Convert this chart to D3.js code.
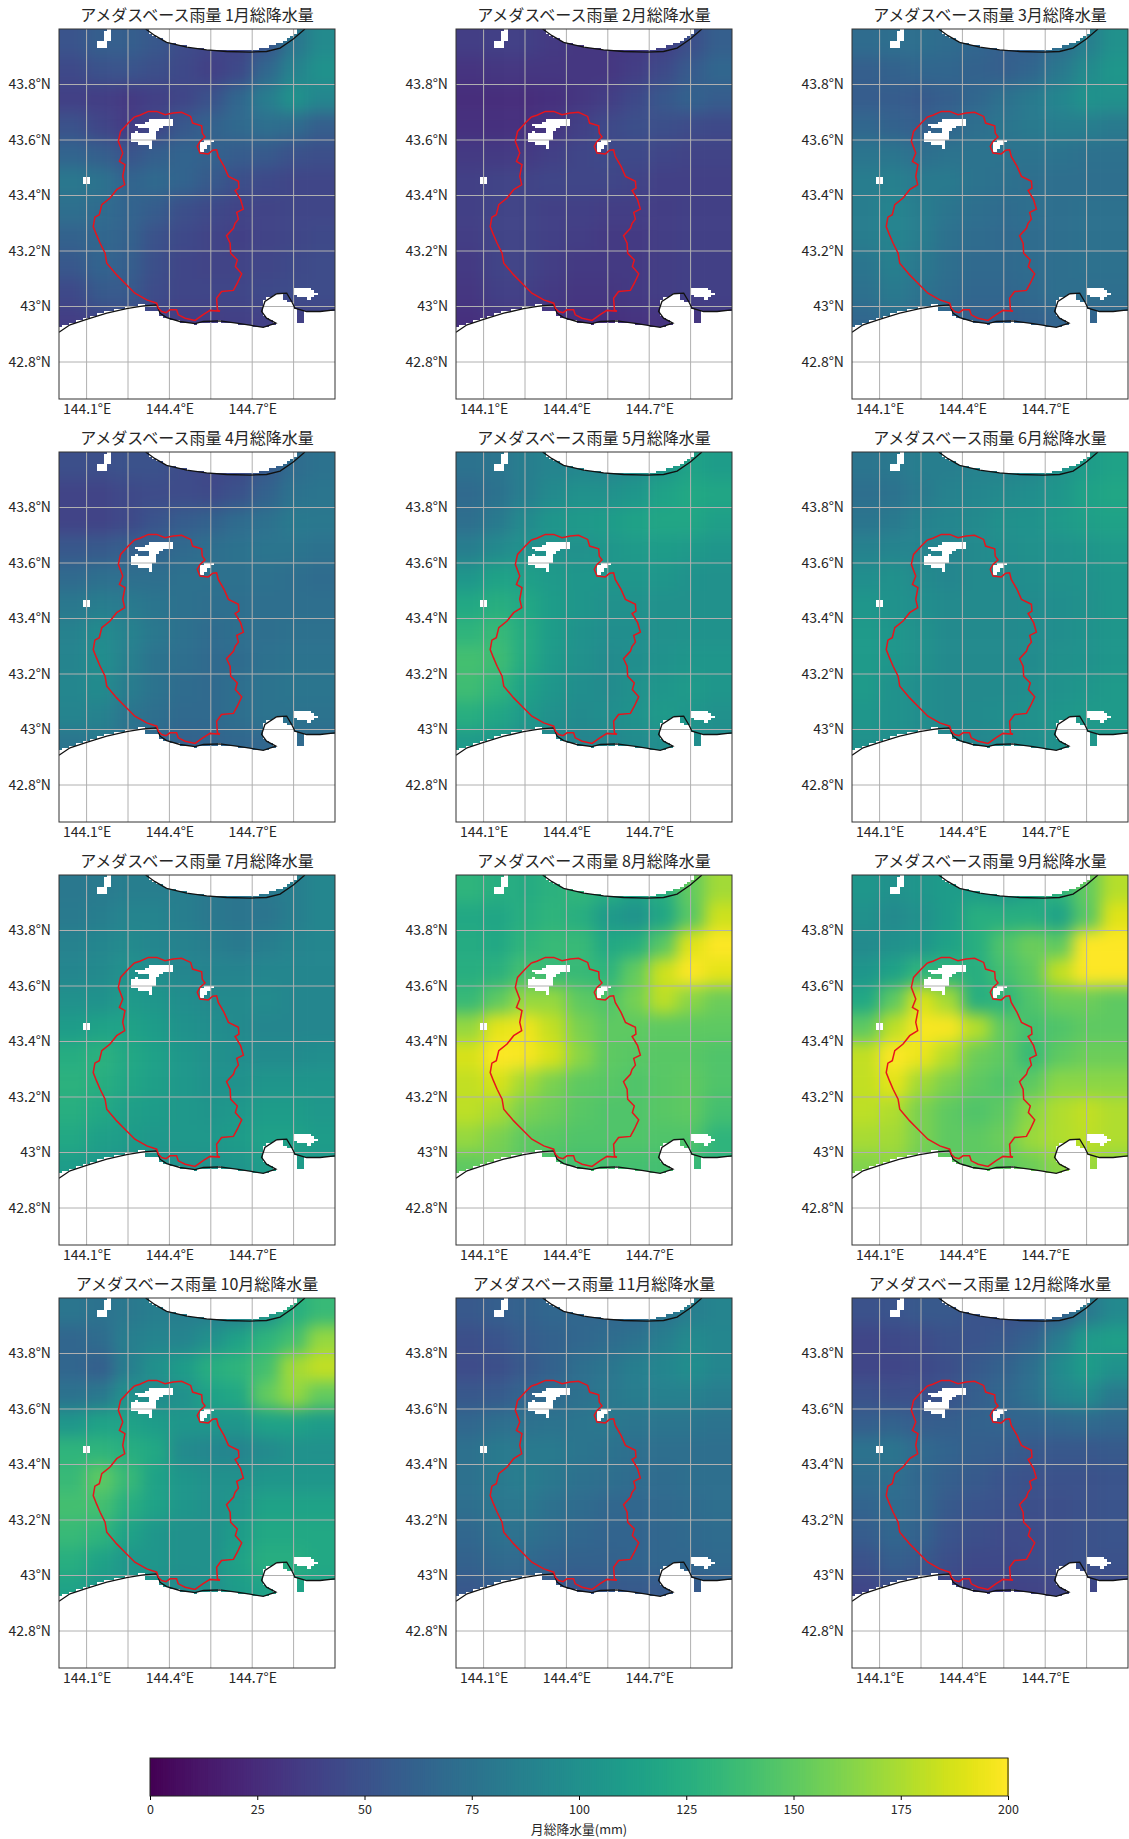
<!DOCTYPE html>
<html>
<head>
<meta charset="utf-8">
<script src="https://cdn.jsdelivr.net/npm/d3@7"></script>
<style>
  body { margin: 0; background: #fff; }
  svg text { font-family: "Noto Sans CJK JP", sans-serif; fill: #262626; }
  .axis path { display: none; }
</style>
</head>
<body>
<script>
var months = ["1月","2月","3月","4月","5月","6月","7月","8月","9月","10月","11月","12月"]

// centre of each coarse reading, columns west to east and rows north to south
var colLons = [144.0,144.1,144.2,144.3,144.4,144.5,144.6,144.7,144.8,144.9]
var rowLats = [44.0,43.9,43.8,43.7,43.6,43.5,43.4,43.3,43.2,43.1,43.0]

var lonGrid = [144.1,144.25,144.4,144.55,144.7,144.85]
var lonLabels = [144.1,144.4,144.7]
var latTicks = [43.8,43.6,43.4,43.2,43,42.8]
var barTicks = [0,25,50,75,100,125,150,175,200]

// monthly rain in mm
var jan = [[52,60,60,54,46,42,40,52,78,95],[44,50,52,48,44,38,44,66,88,102],[38,36,34,38,42,50,66,84,102,92],[50,42,35,42,54,62,68,72,70,60],[64,60,52,60,64,62,58,56,50,48],[80,76,64,68,64,56,48,44,42,42],[72,70,64,58,48,44,40,40,42,42],[62,66,62,50,44,40,38,40,42,44],[54,64,60,48,42,40,40,42,44,46],[44,56,56,46,42,42,42,44,46,46],[36,42,44,40,36,36,38,38,38,40]]
var feb = [[36,38,38,34,32,32,34,38,48,60],[30,32,32,32,32,32,36,45,57,66],[26,26,26,28,32,36,44,54,62,58],[28,28,28,32,38,44,48,48,46,44],[34,34,34,38,42,44,44,42,40,40],[38,40,40,42,42,42,40,38,38,38],[38,40,40,38,38,36,36,36,38,38],[36,40,40,38,36,34,34,36,38,38],[34,40,40,36,34,34,34,36,38,38],[32,38,38,34,32,32,34,36,38,38],[28,32,32,30,28,28,30,30,32,34]]
var mar = [[70,72,72,70,65,60,60,70,85,100],[60,62,65,65,62,60,65,80,95,105],[58,58,56,60,66,74,82,92,102,100],[66,62,60,66,72,78,82,85,85,82],[78,78,72,76,76,76,76,76,74,74],[84,86,82,82,76,74,72,72,72,72],[84,90,84,78,72,70,72,72,74,74],[84,90,84,74,70,68,70,72,74,74],[78,86,80,72,68,68,70,72,74,74],[74,82,76,70,66,66,68,72,72,72],[66,72,68,64,60,60,62,64,64,66]]
var apr = [[48,48,50,50,46,42,44,55,70,75],[40,40,44,46,46,45,50,62,75,78],[40,40,44,52,58,62,70,74,82,80],[54,56,60,64,68,72,75,78,78,75],[68,72,72,72,74,74,74,74,72,70],[80,84,82,78,74,72,72,72,72,72],[88,96,88,80,74,70,72,72,74,74],[90,98,86,76,72,68,70,74,76,76],[92,96,84,76,70,68,72,76,78,78],[90,88,78,72,68,68,72,76,76,76],[78,80,72,66,62,64,66,66,68,68]]
var may = [[75,78,85,90,92,90,95,105,115,110],[68,75,85,95,100,100,105,115,120,118],[72,82,95,105,108,110,115,118,118,112],[85,95,100,100,100,105,108,110,108,105],[105,115,112,108,105,105,105,105,102,100],[120,125,120,110,105,100,100,100,100,100],[130,135,122,110,102,98,98,100,102,102],[140,138,122,108,100,96,98,102,105,105],[138,130,115,105,98,96,100,105,108,105],[125,118,108,100,96,98,102,108,105,100],[108,105,96,92,90,92,96,98,98,95]]
var jun = [[78,80,85,85,88,88,92,100,110,115],[72,75,82,88,92,95,98,105,115,118],[78,82,88,92,95,100,102,108,112,115],[88,90,90,90,95,98,100,102,105,108],[98,100,95,92,95,96,98,100,102,105],[105,102,98,95,95,95,96,98,100,105],[108,105,100,95,95,95,96,98,102,105],[108,105,100,95,95,95,96,100,102,105],[108,102,98,95,95,96,98,102,105,108],[105,102,98,95,96,98,100,105,108,108],[100,98,95,92,92,95,98,102,105,105]]
var jul = [[80,82,85,85,85,80,78,80,85,92],[82,85,90,90,85,80,78,78,85,92],[88,92,95,92,88,85,82,85,90,92],[92,95,100,98,92,90,90,92,92,92],[100,102,108,105,98,95,95,95,92,92],[110,115,115,110,102,98,95,92,92,92],[124,128,120,114,106,100,98,96,96,98],[128,125,118,112,107,102,102,104,104,104],[125,120,112,110,107,104,107,110,110,107],[120,112,110,107,107,107,110,114,114,110],[110,107,102,100,100,102,104,110,110,107]]
var aug = [[130,125,122,128,132,125,115,125,152,172],[120,118,125,130,125,108,103,118,148,185],[122,120,130,135,135,120,125,148,190,200],[125,128,140,135,135,130,152,185,200,192],[135,150,168,168,150,145,158,180,165,155],[168,192,195,182,160,150,150,150,150,150],[188,200,198,188,165,150,148,148,148,145],[182,188,172,160,150,148,145,148,150,145],[180,174,160,155,148,145,145,148,150,140],[168,160,150,148,145,145,145,145,145,130],[150,155,148,140,140,140,140,140,135,130]]
var sep = [[105,100,105,110,110,105,115,130,152,178],[100,95,100,110,125,125,125,115,148,190],[95,100,105,115,125,145,155,150,200,200],[105,115,130,130,125,140,150,182,200,200],[120,150,188,172,125,130,145,155,155,150],[150,180,198,198,178,150,140,145,150,150],[182,200,194,178,155,150,135,150,155,155],[182,192,172,160,150,145,150,165,165,165],[180,176,160,150,145,150,165,176,182,176],[174,172,160,150,150,155,170,176,180,176],[162,166,155,150,150,150,155,165,170,165]]
var oct = [[78,75,80,85,85,85,85,100,125,135],[65,70,85,90,90,100,115,130,140,168],[65,60,85,100,110,125,130,140,172,182],[75,80,100,95,100,115,120,152,168,152],[105,115,115,110,105,105,105,115,115,110],[130,130,125,120,95,92,90,95,100,100],[135,150,135,115,105,100,100,105,105,105],[140,140,125,115,105,100,105,115,115,115],[135,130,115,105,100,100,110,120,120,120],[125,115,105,105,100,100,115,125,125,120],[115,105,105,100,95,100,110,115,115,115]]
var nov = [[55,60,62,66,66,66,66,75,85,90],[48,52,58,62,66,70,75,85,95,92],[46,48,55,62,72,78,85,92,98,92],[54,57,64,68,74,80,84,87,87,84],[66,72,74,76,78,80,78,78,78,76],[74,82,82,82,78,75,72,72,72,72],[74,82,84,80,74,72,70,70,72,72],[72,79,80,74,70,66,66,68,70,72],[66,74,74,70,66,64,64,66,68,70],[62,68,68,64,62,62,64,66,66,68],[54,58,58,54,52,54,56,56,56,59]]
var dec = [[50,52,55,55,52,50,52,60,80,94],[42,44,46,50,52,55,62,84,108,112],[42,42,44,48,56,62,72,96,110,102],[50,48,48,52,60,66,74,92,96,82],[60,62,58,60,62,64,64,66,68,66],[76,78,68,64,60,58,55,54,54,56],[70,72,66,60,56,52,50,50,50,52],[64,70,66,56,52,50,48,48,50,52],[58,66,62,52,48,46,46,48,50,52],[50,60,56,48,44,44,46,48,50,50],[42,48,46,40,38,38,40,42,42,44]]
var rain = [jan,feb,mar,apr,may,jun,jul,aug,sep,oct,nov,dec]

// catchment outline, lon/lat
var basin = [[144.273,43.683],[144.293,43.689],[144.324,43.703],[144.354,43.703],[144.384,43.691],[144.414,43.697],[144.444,43.700],[144.477,43.685],[144.484,43.661],[144.517,43.651],[144.519,43.625],[144.529,43.611],[144.511,43.595],[144.501,43.577],[144.511,43.553],[144.541,43.550],[144.557,43.563],[144.571,43.565],[144.577,43.541],[144.598,43.505],[144.614,43.469],[144.650,43.451],[144.652,43.427],[144.638,43.418],[144.658,43.385],[144.668,43.351],[144.644,43.339],[144.650,43.315],[144.638,43.300],[144.632,43.282],[144.607,43.255],[144.620,43.228],[144.622,43.192],[144.646,43.168],[144.639,43.144],[144.662,43.118],[144.646,43.084],[144.632,43.058],[144.589,43.054],[144.571,43.030],[144.574,42.988],[144.583,42.983],[144.547,42.986],[144.521,42.970],[144.493,42.950],[144.457,42.958],[144.432,42.970],[144.426,42.988],[144.402,42.988],[144.388,42.978],[144.372,42.982],[144.360,42.994],[144.354,43.012],[144.318,43.024],[144.275,43.048],[144.239,43.084],[144.209,43.114],[144.173,43.156],[144.167,43.192],[144.149,43.228],[144.136,43.258],[144.124,43.288],[144.130,43.322],[144.146,43.331],[144.155,43.367],[144.185,43.391],[144.209,43.421],[144.238,43.439],[144.231,43.469],[144.239,43.511],[144.219,43.523],[144.231,43.553],[144.215,43.595],[144.223,43.631],[144.251,43.661],[144.273,43.683]]

var coastNorth = [[144.314,44.0],[144.348,43.976],[144.390,43.952],[144.463,43.935],[144.535,43.925],[144.607,43.919],[144.692,43.917],[144.752,43.919],[144.801,43.931],[144.849,43.964],[144.891,44.0]]
var coastSouth = [[144.0,42.907],[144.040,42.934],[144.100,42.954],[144.173,42.976],[144.245,42.992],[144.306,43.002],[144.354,43.006],[144.366,42.976],[144.390,42.960],[144.438,42.946],[144.493,42.938],[144.523,42.946],[144.583,42.948],[144.656,42.938],[144.740,42.925],[144.786,42.940],[144.752,42.958],[144.734,42.982],[144.746,43.018],[144.789,43.046],[144.825,43.048],[144.843,43.018],[144.855,42.994],[144.897,42.982],[144.946,42.982],[145.0,42.988]]

// cells with no data; these follow the grid rather than the coast
var seaNorth = [[144.305,44.01],[144.340,43.978],[144.385,43.955],[144.463,43.937],[144.535,43.927],[144.607,43.921],[144.692,43.925],[144.752,43.932],[144.801,43.950],[144.849,43.978],[144.875,44.01]]
var seaSouth = [[143.98,42.65],[143.98,42.912],[144.040,42.940],[144.100,42.960],[144.173,42.982],[144.245,42.997],[144.306,43.006],[144.313,42.985],[144.358,42.983],[144.366,42.970],[144.390,42.958],[144.438,42.944],[144.493,42.936],[144.523,42.944],[144.583,42.946],[144.656,42.936],[144.740,42.923],[144.786,42.938],[144.752,42.958],[144.734,42.985],[144.738,43.018],[144.789,43.050],[144.812,43.048],[144.818,43.025],[144.845,43.015],[144.858,42.985],[144.858,42.945],[144.884,42.945],[144.884,42.985],[144.946,42.980],[145.02,42.985],[145.02,42.65]]
var lakes = [
  [[144.139,43.959],[144.161,43.959],[144.167,43.986],[144.185,43.995],[144.188,43.986],[144.175,43.956],[144.173,43.938],[144.143,43.940]],
  [[144.088,43.463],[144.110,43.463],[144.110,43.442],[144.088,43.442]],
  [[144.285,43.659],[144.315,43.659],[144.331,43.669],[144.412,43.669],[144.412,43.651],[144.372,43.651],[144.364,43.639],[144.351,43.631],[144.345,43.613],[144.338,43.599],[144.336,43.571],[144.324,43.571],[144.324,43.591],[144.300,43.583],[144.281,43.595],[144.261,43.601],[144.263,43.619],[144.279,43.621],[144.284,43.635],[144.291,43.619],[144.324,43.623],[144.327,43.649],[144.285,43.649]],
  [[144.511,43.565],[144.513,43.583],[144.525,43.589],[144.533,43.599],[144.562,43.599],[144.547,43.591],[144.533,43.575],[144.523,43.559]],
  [[144.861,43.065],[144.905,43.065],[144.934,43.045],[144.915,43.030],[144.880,43.035],[144.861,43.040]]
]

var panelW = 276, panelH = 370
var left = [59, 456, 852], top_ = [29, 452, 875, 1298]
var cellLon = 0.0125, cellLat = 1 / 120

var svg = d3.select("body").append("svg").attr("width", 1129).attr("height", 1839)

var color = d3.scaleSequential(d3.interpolateViridis).domain([0, 200])
var x = d3.scaleLinear().domain([144, 145]).range([0, panelW])
var y = d3.scaleLinear().domain([44, 42.6667]).range([0, panelH])

var defs = svg.append("defs")
defs.append("clipPath").attr("id", "panelClip").append("rect").attr("width", panelW).attr("height", panelH)
defs.append("filter").attr("id", "soft").attr("x", "-10%").attr("y", "-10%")
    .attr("width", "120%").attr("height", "120%")
    .attr("color-interpolation-filters", "sRGB")
  .append("feGaussianBlur").attr("stdDeviation", 8)

// the white no-data cells are the same for all months, so work them out once
var sea = [seaNorth.concat([[144.875,44.02],[144.305,44.02]]), seaSouth]
var maskPath = ""
function inShape(shape, lon, lat) { return d3.polygonContains(shape, [lon, lat]) }
d3.range(80).forEach(function(i) {
  d3.range(160).forEach(function(j) {
    var lon = 144 + (i + .5) * cellLon, lat = 44 - (j + .5) * cellLat
    var dx = cellLon * .4, dy = cellLat * .4
    // lakes are thin, so a cell counts as soon as most of it might touch one
    var hit = sea.some(function(p) { return inShape(p, lon, lat) })
      || lakes.some(function(p) {
        return inShape(p, lon, lat) || inShape(p, lon - dx, lat) || inShape(p, lon + dx, lat)
          || inShape(p, lon, lat - dy) || inShape(p, lon, lat + dy)
      })
    if (hit) {
      maskPath += "M" + x(144 + i * cellLon) + " " + y(44 - j * cellLat)
        + "H" + x(144 + (i + 1) * cellLon) + "V" + y(44 - (j + 1) * cellLat)
        + "H" + x(144 + i * cellLon) + "Z"
    }
  })
})

var outline = d3.line().x(function(d) { return x(d[0]) }).y(function(d) { return y(d[1]) })
var pad = 45 // outer cells run past the frame so the blur does not fade there

months.forEach(function(m, k) {
  var g = svg.append("g").attr("transform", "translate(" + left[k % 3] + "," + top_[Math.floor(k / 3)] + ")")
  var plot = g.append("g").attr("clip-path", "url(#panelClip)")

  var cells = []
  rain[k].forEach(function(row, r) {
    row.forEach(function(v, c) { cells.push({ r: r, c: c, v: v }) })
  })
  plot.append("g").attr("filter", "url(#soft)").selectAll("rect").data(cells).enter().append("rect")
      .attr("x", function(d) { return x(colLons[d.c]) - (d.c == 0 ? pad : 0) })
      .attr("y", function(d) { return y(rowLats[d.r]) - (d.r == 0 ? pad : 0) })
      .attr("width", function(d) { return x(colLons[d.c] + .1) - x(colLons[d.c]) + (d.c == 0 || d.c == 9 ? pad : 0) + .5 })
      .attr("height", function(d) { return y(rowLats[d.r] - .1) - y(rowLats[d.r]) + (d.r == 0 || d.r == 10 ? pad : 0) + .5 })
      .attr("fill", function(d) { return color(d.v) })

  plot.append("path").attr("d", maskPath).attr("fill", "#fff").attr("shape-rendering", "crispEdges")

  plot.selectAll("line.lon").data(lonGrid).enter().append("line")
      .attr("x1", x).attr("x2", x).attr("y1", 0).attr("y2", panelH)
      .attr("stroke", "#b0b0b0").attr("stroke-width", 1)
  plot.selectAll("line.lat").data(latTicks).enter().append("line")
      .attr("y1", y).attr("y2", y).attr("x1", 0).attr("x2", panelW)
      .attr("stroke", "#b0b0b0").attr("stroke-width", 1)

  plot.append("path").attr("d", outline(coastNorth)).attr("fill", "none").attr("stroke", "#111").attr("stroke-width", 1.3)
  plot.append("path").attr("d", outline(coastSouth)).attr("fill", "none").attr("stroke", "#111").attr("stroke-width", 1.3)
  plot.append("path").attr("d", outline(basin)).attr("fill", "none").attr("stroke", "#e8141c").attr("stroke-width", 1.5)

  g.append("rect").attr("width", panelW).attr("height", panelH)
      .attr("fill", "none").attr("stroke", "#333").attr("stroke-width", 1)

  g.append("g").attr("class", "axis").attr("transform", "translate(0," + panelH + ")")
      .call(d3.axisBottom(x).tickValues(lonLabels).tickSize(0).tickPadding(5)
        .tickFormat(function(d) { return d.toFixed(1) + "°E" }))
      .selectAll("text").style("font-size", "14px")
  g.append("g").attr("class", "axis")
      .call(d3.axisLeft(y).tickValues(latTicks).tickSize(0).tickPadding(8)
        .tickFormat(function(d) { return d + "°N" }))
      .selectAll("text").style("font-size", "14px")

  g.append("text").attr("x", panelW / 2).attr("y", -8).attr("text-anchor", "middle")
      .style("font-size", "16px").text("アメダスベース雨量 " + m + "総降水量")
})

// colour bar
var barX = d3.scaleLinear().domain([0, 200]).range([150, 1008])
var bar = svg.append("g").attr("transform", "translate(0,1758)")
bar.append("g").selectAll("rect").data(d3.range(0, 200, .5)).enter().append("rect")
    .attr("x", barX).attr("y", 0).attr("height", 38)
    .attr("width", function(d) { return barX(d + .5) - barX(d) + 1 })
    .attr("fill", function(d) { return color(d + .25) })
bar.append("rect").attr("x", 150).attr("width", 858).attr("height", 38)
    .attr("fill", "none").attr("stroke", "#222").attr("stroke-width", 1)
bar.append("g").attr("class", "axis").attr("transform", "translate(0,38)")
    .call(d3.axisBottom(barX).tickValues(barTicks).tickSize(4).tickPadding(5))
    .selectAll("text").style("font-size", "12.5px")
svg.append("text").attr("x", 579).attr("y", 1834).attr("text-anchor", "middle")
    .style("font-size", "12.8px").text("月総降水量(mm)")
</script>
</body>
</html>
